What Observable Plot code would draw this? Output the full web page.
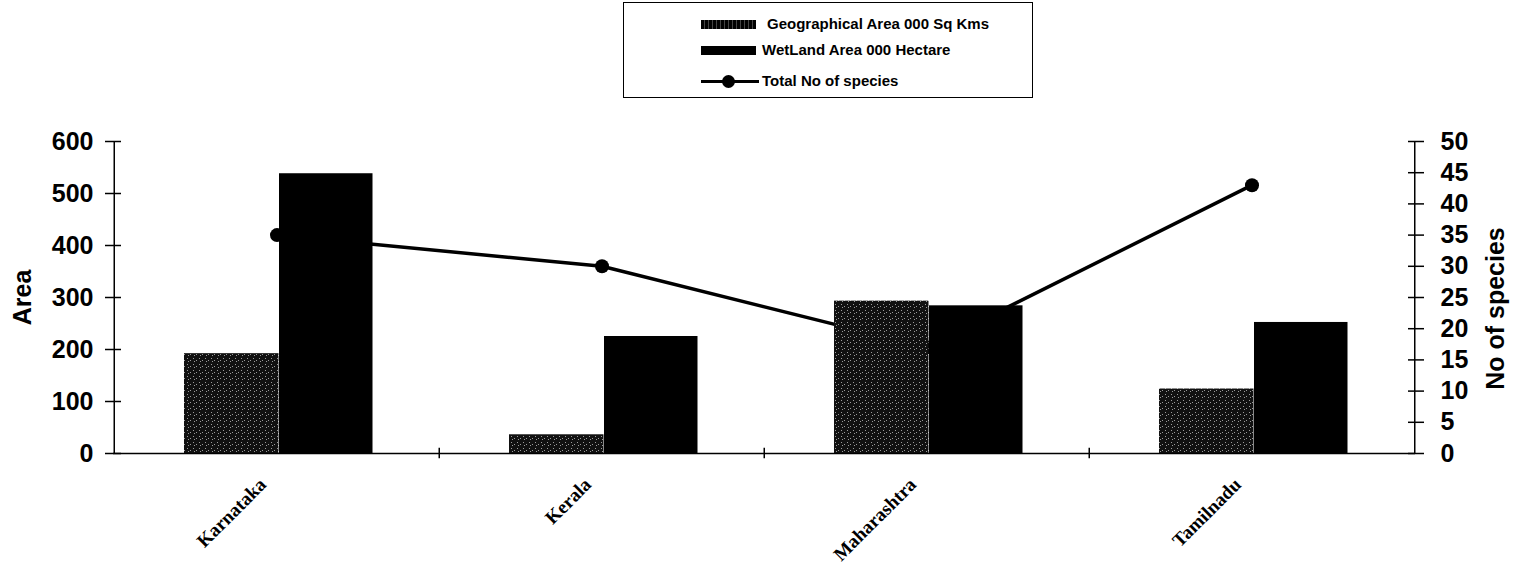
<!DOCTYPE html>
<html><head><meta charset="utf-8">
<script src="https://cdn.jsdelivr.net/npm/d3@7"></script>
<script src="https://cdn.jsdelivr.net/npm/@observablehq/plot@0.6"></script>
<style>
body{margin:0;background:#fff;font-family:"Liberation Sans",Arial,sans-serif;}
#wrap{position:relative;width:1530px;height:568px;overflow:hidden;}
#legend{position:absolute;left:623px;top:2px;width:410px;height:96px;border:1.5px solid #000;box-sizing:border-box;}
.lg-item{position:absolute;left:0;height:20px;width:400px;}
.lg-sw{position:absolute;left:77px;top:6px;width:55px;height:9px;background:#000;}
.lg-txt{position:absolute;left:140px;top:0;font:bold 15px "Liberation Sans",Arial,sans-serif;line-height:20px;white-space:nowrap;}
.lg-line{position:absolute;left:77px;top:9px;width:58px;height:3px;background:#000;}
.lg-dot{position:absolute;left:98px;top:4px;width:13px;height:13px;border-radius:50%;background:#000;}
#chart{position:absolute;left:0;top:105px;}
</style></head><body>
<div id="wrap"><div id="legend"></div><div id="chart"></div></div>
<script>
const categories = ["Karnataka", "Kerala", "Maharashtra", "Tamilnadu"];
const geoArea = [192, 36, 293, 124];
const wetlandArea = [538, 225, 284, 252];
const speciesCount = [35, 30, 17, 43];
const areaTicks = [0, 100, 200, 300, 400, 500, 600];
const speciesTicks = [0, 5, 10, 15, 20, 25, 30, 35, 40, 45, 50];
const seriesNames = ["Geographical Area 000 Sq Kms", "WetLand Area 000 Hectare", "Total No of species"];
const yLeftLabel = "Area";
const yRightLabel = "No of species";

const rows = categories.map((c, i) => ({cat: c, geo: geoArea[i], wet: wetlandArea[i], sp: speciesCount[i]}));
const k = 600 / 50; // species -> area scale factor

// legend
const legend = document.getElementById("legend");
const tops = [11, 37, 68];
seriesNames.forEach((name, i) => {
  const it = document.createElement("div");
  it.className = "lg-item";
  it.style.top = tops[i] + "px";
  if (i < 2) {
    const sw = document.createElement("div");
    sw.className = "lg-sw";
    if (i === 0) sw.style.background = "repeating-linear-gradient(90deg,#000 0 3px,#444 3px 4px)";
    it.appendChild(sw);
  } else {
    const ln = document.createElement("div"); ln.className = "lg-line"; it.appendChild(ln);
    const dt = document.createElement("div"); dt.className = "lg-dot"; it.appendChild(dt);
  }
  const tx = document.createElement("div");
  tx.className = "lg-txt";
  tx.style.left = (i === 0 ? 143 : 138) + "px";
  tx.textContent = name;
  it.appendChild(tx);
  legend.appendChild(it);
});

const W = 1530, H = 463, ML = 113, MR = 115, MT = 36, MB = 115;
const step = (W - ML - MR) / categories.length;
const half = step / 2;

const chart = Plot.plot({
  width: W, height: H,
  marginLeft: ML, marginRight: MR, marginTop: MT, marginBottom: MB,
  style: {fontFamily: "'Liberation Sans', Arial, sans-serif", fontSize: "25px", fontWeight: "bold", color: "#000", background: "#fff"},
  x: {domain: categories, padding: 0, label: null},
  y: {domain: [0, 600], label: null},
  marks: [
    // species line (drawn beneath bars)
    Plot.line(rows, {x: "cat", y: d => d.sp * k, stroke: "#000", strokeWidth: 3.5}),
    Plot.dot(rows, {x: "cat", y: d => d.sp * k, r: 7, fill: "#000"}),
    // bars
    Plot.barY(rows, {x: "cat", y: "geo", fill: "url(#geoPat)", insetLeft: 70, insetRight: step - 165}),
    Plot.barY(rows, {x: "cat", y: "wet", fill: "#000", insetLeft: 165, insetRight: step - 259}),
    // axis lines
    Plot.ruleY([0], {stroke: "#000", strokeWidth: 1.5}),
    Plot.ruleX([categories[0]], {x: d => d, dx: -half, y1: 0, y2: 600, stroke: "#000", strokeWidth: 1.5}),
    Plot.ruleX([categories[categories.length - 1]], {x: d => d, dx: half, y1: 0, y2: 600, stroke: "#000", strokeWidth: 1.5}),
    // category boundary ticks
    Plot.ruleX(categories.slice(1), {x: d => d, dx: -half, y1: -10, y2: 10, stroke: "#000", strokeWidth: 1.5}),
    // left axis
    Plot.axisY(areaTicks, {anchor: "left", tickSize: 16, dx: 8, tickPadding: 12, label: null, strokeWidth: 1.5}),
    // right axis (species)
    Plot.axisY(speciesTicks, {anchor: "right", y: d => d * k, tickFormat: d => String(d), tickSize: 16, dx: -8, tickPadding: 17, label: null, strokeWidth: 1.5}),
    // x axis labels
    Plot.axisX({tickSize: 0, tickRotate: -45, tickPadding: 28, dx: -14, label: null, fontSize: 19, fontFamily: "'Liberation Serif', 'Times New Roman', serif", fontWeight: "bold"}),
    // axis titles
    Plot.text([yLeftLabel], {text: d => d, frameAnchor: "left", textAnchor: "middle", dx: -91, rotate: -90, fontSize: 25, fontWeight: "bold"}),
    Plot.text([yRightLabel], {text: d => d, frameAnchor: "right", textAnchor: "middle", dx: 80, dy: 11, rotate: -90, fontSize: 25, fontWeight: "bold"})
  ]
});

// pattern for the geographical-area bars (speckled dark fill)
const ns = "http://www.w3.org/2000/svg";
const defs = document.createElementNS(ns, "defs");
const pat = document.createElementNS(ns, "pattern");
pat.setAttribute("id", "geoPat");
pat.setAttribute("patternUnits", "userSpaceOnUse");
pat.setAttribute("width", "6");
pat.setAttribute("height", "6");
const bg = document.createElementNS(ns, "rect");
bg.setAttribute("width", "6"); bg.setAttribute("height", "6"); bg.setAttribute("fill", "#111");
pat.appendChild(bg);
[[1, 1], [4, 3], [2, 4]].forEach(([px, py]) => {
  const r = document.createElementNS(ns, "rect");
  r.setAttribute("x", px); r.setAttribute("y", py);
  r.setAttribute("width", "1"); r.setAttribute("height", "1");
  r.setAttribute("fill", "#9a9a9a");
  pat.appendChild(r);
});
defs.appendChild(pat);
chart.insertBefore(defs, chart.firstChild);

document.getElementById("chart").appendChild(chart);
</script>
</body></html>
